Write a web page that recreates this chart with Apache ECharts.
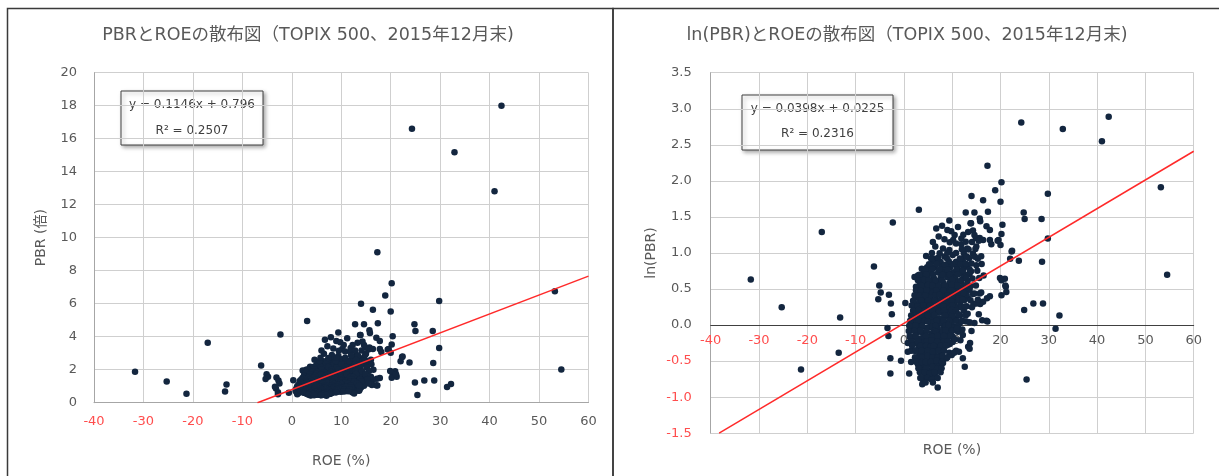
<!DOCTYPE html>
<html><head><meta charset="utf-8">
<script src="https://cdn.jsdelivr.net/npm/echarts@6/dist/echarts.min.js"></script>
<style>html,body{margin:0;padding:0;background:#fff}#c{width:1219px;height:476px}</style>
</head><body><div id="c"></div>
<script>
// [ROE (%), PBR (倍)] per company
const companies = [
[-31.7,1.88],[-25.3,1.28],[-21.3,0.54],[-17.0,3.63],[-13.5,0.68],[-13.2,1.11],
[-6.2,2.25],[-5.1,1.73],[-4.8,1.57],[-5.3,1.43],[-3.1,1.52],[-2.7,1.35],[-2.5,1.16],[-3.4,0.96],[-3.2,0.86],[-2.8,0.63],[-2.8,0.51],[-2.3,4.14],[-0.6,0.61],[1.1,0.51],[0.3,1.36],[3.1,4.95],
[25.4,0.47],[42.4,17.99],[32.9,15.18],[41.0,12.81],[24.3,16.61],[53.2,6.75],[54.5,2.01],
[29.8,6.17],[28.5,4.35],[29.8,3.32],[28.6,2.41],[28.8,1.35],[32.2,1.14],[31.4,0.95],
[17.3,9.12],[20.2,7.24],[18.9,6.49],[14.0,5.99],[16.4,5.64],[20.0,5.53],[24.8,4.76],[25.0,4.35],[17.4,4.81],[14.6,4.76],[12.8,4.76],[15.7,4.39],[15.8,4.22],[13.8,4.10],[17.1,3.94],[20.4,4.02],[17.8,3.74],[14.3,3.71],[14.6,3.49],[15.7,3.35],[16.4,3.25],[19.6,3.25],[20.2,3.53],[18.1,3.07],[20.0,3.03],[22.3,2.77],[22.0,2.51],[23.8,2.44],
[16.5,1.99],[20.2,1.86],[20.9,1.90],[21.1,1.70],[21.2,1.58],[20.2,1.51],[26.8,1.35],[24.9,1.23],[17.8,1.49],[17.2,1.45],[16.4,1.38],[15.8,1.34],[15.7,1.55],[14.3,1.54],[14.4,1.34],[16.2,1.07],[17.1,1.06],[14.0,0.92],
[9.4,4.26],[7.9,3.97],[6.7,3.82],[9.0,3.74],[9.8,3.67],[11.2,3.90],[13.9,4.10],[7.2,3.42],[8.4,3.29],[10.2,3.25],[11.9,3.32],[13.3,3.63],[14.9,3.35],[15.5,3.22],[17.8,3.25],[19.4,3.22],[13.1,2.89],[15.0,2.97],[6.5,2.97],[8.1,2.89],[9.4,2.83],[10.8,3.10],[11.9,3.07],[22.4,2.80],
[4.6,2.61],[6.3,2.51],[8.4,2.59],[10.1,2.64],[12.6,2.59],[14.3,2.69],[15.3,2.51],[5.3,2.29],[7.0,2.36],[9.1,2.29],[11.2,2.36],[13.2,2.29],[15.0,2.29],[3.7,2.18],[2.9,1.99],[4.9,2.05],[7.7,2.10],[9.8,2.05],[11.9,2.08],[13.6,2.03],[19.9,1.92],[21.0,1.73],
[2.2,1.32],[2.5,1.70],[2.2,1.95],[3.2,1.55],[4.2,1.79],[5.6,1.63],[4.6,1.45],[6.7,1.42],[8.4,1.55],[10.1,1.70],[11.9,1.82],[12.9,1.70],[14.6,1.55],[13.6,1.63],[13.3,1.45],[11.7,1.48],[10.8,1.28],[9.8,1.42],[7.7,1.26],[6.0,1.23],[3.9,1.20],[2.5,1.13],[1.8,1.02],[3.7,1.02],[4.9,1.07],[6.7,1.09],[8.4,1.13],[9.8,1.07],[11.5,1.02],[12.9,1.05],[14.6,1.03],[17.3,1.05],[15.0,1.35],
[1.5,0.93],[2.2,0.85],[3.2,0.78],[2.2,0.70],[3.5,0.68],[2.5,0.61],[3.5,0.56],[4.6,0.52],[3.9,0.47],[4.9,0.48],[6.0,0.48],[7.0,0.42],[5.6,0.59],[7.0,0.64],[8.1,0.70],[9.1,0.76],[10.1,0.85],[11.2,0.91],[12.2,0.87],[13.3,0.74],[12.2,0.63],[8.1,0.59],[6.7,0.55],[4.6,0.64],[6.0,0.70],[4.9,0.78],[7.0,0.81],[8.4,0.87],[6.3,0.93],[4.2,0.89],[3.2,0.98],[9.1,0.93],[10.5,0.98],[7.7,0.74],[9.4,0.68],[8.8,0.63],[10.8,0.70],[2.9,0.64],[1.5,0.70],[0.8,0.78],[1.3,0.84],[3.8,0.44],[5.8,0.47],[2.9,0.58],[1.5,0.60],[0.8,0.69],[10.1,0.79],[9.9,0.66],[13.7,0.78],[13.6,0.72],[12.6,0.56],
[6.0,2.41],[7.6,2.40],[9.3,2.42],[10.8,2.41],[12.2,2.43],
[4.8,2.23],[6.3,2.22],[7.9,2.24],[9.6,2.23],[11.0,2.21],[12.5,2.23],
[4.1,2.07],[5.5,2.08],[7.1,2.07],[8.6,2.09],[10.4,2.08],[11.6,2.06],
[3.6,1.93],[4.9,1.94],[6.2,1.92],[7.6,1.93],[9.0,1.94],[10.6,1.93],[12.3,1.92],
[3.3,1.80],[5.7,1.81],[6.9,1.80],[8.2,1.79],[9.5,1.80],[11.0,1.81],
[3.0,1.68],[4.3,1.69],[6.4,1.68],[7.7,1.67],[8.9,1.68],[10.4,1.69],[11.6,1.68],
[3.8,1.57],[5.0,1.56],[6.0,1.57],[7.2,1.58],[9.3,1.57],[10.8,1.56],
[2.7,1.46],[3.9,1.47],[5.4,1.46],[7.9,1.46],[8.6,1.47],[10.3,1.46],[11.3,1.45],
[3.1,1.36],[4.4,1.37],[5.8,1.36],[7.0,1.35],[8.0,1.36],[9.1,1.37],[10.5,1.36],
[2.3,1.27],[3.5,1.28],[4.9,1.27],[6.5,1.26],[8.6,1.27],[9.5,1.28],[11.0,1.27],
[2.8,1.19],[5.3,1.18],[6.9,1.19],[7.9,1.19],[9.0,1.18],[10.2,1.19],
[2.1,1.10],[3.3,1.11],[4.4,1.10],[5.8,1.11],[7.3,1.10],[9.4,1.11],[10.6,1.10],
[2.6,1.03],[5.5,1.03],[6.2,1.04],[7.6,1.03],[8.9,1.03],[9.9,1.04],
[1.9,0.96],[3.0,0.96],[4.6,0.96],[5.4,0.97],[7.0,0.96],[8.2,0.96],[9.7,0.96],[10.4,0.97],
[2.7,0.90],[3.8,0.90],[5.7,0.89],[7.4,0.90],[9.2,0.90],
[2.0,0.84],[3.4,0.83],[4.2,0.84],[5.3,0.84],[6.4,0.83],[7.8,0.84],[8.8,0.84],
[2.6,0.78],[3.9,0.78],[6.0,0.78],[7.2,0.78],[8.6,0.78],[9.5,0.77],
[3.0,0.73],[4.1,0.72],[5.2,0.73],[6.8,0.73],[8.0,0.72],
[3.2,0.67],[4.5,0.67],[5.6,0.67],[6.4,0.66],[7.6,0.67],
[3.4,0.62],[4.0,0.63],[5.0,0.62],[6.1,0.63],[7.3,0.62],[8.3,0.63],
[4.2,0.58],[5.3,0.58],[6.4,0.57],[7.4,0.58],
[3.8,0.53],[5.0,0.53],[5.8,0.54],[6.9,0.53],
[4.4,0.50],[5.5,0.49],[6.4,0.50],
[5.2,2.32],[6.8,2.33],[8.5,2.31],[10.1,2.32],[11.7,2.33],[13.0,2.31],
[4.4,2.16],[5.9,2.17],[7.4,2.16],[9.0,2.15],[10.9,2.16],[12.2,2.17],[13.6,2.16],
[3.2,2.01],[4.6,2.02],[6.0,2.01],[8.0,2.00],[9.5,2.01],[11.2,2.02],[12.9,2.01],
[2.9,1.86],[4.2,1.87],[5.1,1.86],[6.6,1.85],[7.9,1.86],[10.0,1.87],[11.8,1.86],[13.2,1.85],
[3.6,1.73],[5.0,1.74],[5.9,1.73],[7.2,1.72],[8.5,1.73],[9.9,1.74],[12.4,1.73],[13.8,1.72],
[2.5,1.62],[3.5,1.61],[4.7,1.62],[6.7,1.62],[8.2,1.61],[9.8,1.62],[11.3,1.63],[12.6,1.62],
[2.2,1.51],[3.3,1.50],[4.4,1.51],[6.5,1.51],[7.4,1.52],[9.0,1.51],[10.0,1.50],[12.2,1.51],[13.0,1.52],
[1.9,1.40],[3.6,1.41],[5.0,1.40],[6.3,1.40],[7.6,1.41],[8.6,1.40],[9.8,1.39],[11.4,1.40],[12.5,1.41],
[1.6,1.31],[2.8,1.30],[4.0,1.31],[5.4,1.31],[7.5,1.32],[8.1,1.30],[10.0,1.31],[11.7,1.31],[13.0,1.30],
[1.9,1.22],[3.0,1.23],[4.2,1.22],[5.9,1.22],[7.3,1.21],[8.3,1.22],[9.9,1.23],[10.8,1.22],[12.4,1.22],
[1.5,1.14],[2.6,1.13],[3.9,1.14],[4.9,1.14],[6.3,1.15],[8.5,1.14],[10.0,1.13],[11.6,1.14],[12.8,1.14],
[1.3,1.06],[3.0,1.07],[4.2,1.06],[4.9,1.05],[6.8,1.06],[8.2,1.06],[9.4,1.07],[10.9,1.06],[12.1,1.06],
[1.1,0.99],[2.4,0.99],[3.8,0.99],[5.9,0.98],[6.6,0.99],[8.6,0.99],[9.2,1.00],[11.2,0.99],
[1.0,0.92],[2.2,0.92],[3.4,0.93],[4.7,0.92],[6.2,0.92],[6.6,0.91],[8.0,0.92],[8.6,0.93],[10.0,0.92],
[1.2,0.86],[2.4,0.86],[4.6,0.86],[6.0,0.85],[7.0,0.86],[8.3,0.86],[9.6,0.86],
[1.6,0.80],[2.9,0.80],[4.8,0.80],[5.7,0.81],[6.9,0.80],[8.3,0.80],[9.1,0.80],
[1.7,0.75],[3.4,0.75],[4.6,0.75],[5.5,0.74],[6.2,0.75],[7.6,0.75],[8.7,0.75],
[2.4,0.70],[3.6,0.70],[4.9,0.70],[6.0,0.69],[7.2,0.70],[8.3,0.70],
[2.3,0.64],[3.8,0.64],[4.9,0.65],[5.9,0.64],[7.0,0.64],[8.0,0.65],[9.0,0.64],
[2.6,0.60],[3.7,0.60],[4.5,0.60],[5.6,0.60],[6.7,0.61],[7.9,0.60],
[3.0,0.55],[4.6,0.55],[5.9,0.56],[6.9,0.55],[7.8,0.55],
[3.3,0.52],[4.3,0.52],[5.3,0.51],[6.3,0.52],[7.6,0.52],
[3.4,0.48],[4.9,0.48],[5.8,0.47],[7.0,0.48],
[4.5,0.45],[6.0,0.45],
[5.6,2.53],[7.1,2.54],[8.9,2.53],[11.6,2.52],[13.5,2.53],
[5.8,2.72],[7.4,2.71],[9.0,2.73],[10.8,2.72],[12.4,2.71],
[6.0,3.16],[9.5,3.15],[12.8,3.17],[14.1,3.16],
[10.5,3.49],[12.3,3.50],
[12.0,2.86],[13.4,2.85],[14.8,2.87],
[13.0,2.59],[14.7,2.58],[16.0,2.60],
[12.8,2.34],[14.0,2.35],[16.1,2.33],
[12.2,2.12],[13.9,2.11],[15.2,2.12],
[12.9,1.92],[14.2,1.91],[15.6,1.92],
[11.1,1.73],[13.0,1.74],[14.9,1.73],
[11.8,1.57],[12.4,1.56],[16.0,1.57],
[12.1,1.42],[13.8,1.41],[15.3,1.42],
[11.9,1.28],[12.6,1.29],[14.1,1.28],
[11.3,1.16],[13.2,1.17],[15.5,1.16],
[11.9,1.05],[13.6,1.04],
[11.0,0.95],[12.1,0.94],
[10.6,0.82],[11.7,0.81],
[10.4,0.68],[11.4,0.69]
];
const chartTitles = ['PBRとROEの散布図（TOPIX 500、2015年12月末)', 'ln(PBR)とROEの散布図（TOPIX 500、2015年12月末)'];
const xAxisName = 'ROE (%)';
const yAxisNames = ['PBR (倍)', 'ln(PBR)'];
const roeRange = [-40, 60, 10];
const pbrRange = [0, 20, 2];
const lnRange = [-1.5, 3.5, 0.5];
const trendSlope = [0.1146, 0.0398];
const trendIntercept = [0.796, 0.0225];
const trendR2 = [0.2507, 0.2316];

const FONT = '"DejaVu Sans","Noto Sans CJK JP",sans-serif';
const GRAY = '#595959';
const RED = '#ff4d4d';
const DOT = '#13263f';

const lnData = companies.map(p => [p[0], Math.log(p[1])]);
function trendPoints(i, yMin) {
  const m = trendSlope[i], b = trendIntercept[i];
  const x0 = Math.max(roeRange[0], (yMin - b) / m);
  return [[x0, m * x0 + b], [roeRange[1], m * roeRange[1] + b]];
}
const negColor = v => (Number(v) < 0 ? RED : GRAY);

const grid1 = {left: 710.7, top: 72.7, width: 483, height: 360.5};
// place the right chart's x axis on its y = 0 line
const zeroOffset = -grid1.height * (0 - lnRange[0]) / (lnRange[1] - lnRange[0]);

const chart = echarts.init(document.getElementById('c'), null, {renderer: 'canvas'});
const xCommon = {
  type: 'value', min: roeRange[0], max: roeRange[1], interval: roeRange[2],
  axisTick: {show: false},
  axisLabel: {fontFamily: FONT, fontSize: 13, color: negColor, margin: 12},
  splitLine: {lineStyle: {color: '#cfcfcf', width: 1}}
};
const option = {
  animation: false,
  grid: [
    {left: 94, top: 72.7, width: 494.5, height: 330},
    grid1
  ],
  xAxis: [
    Object.assign({}, xCommon, {gridIndex: 0,
      axisLine: {lineStyle: {color: '#a6a6a6'}},
      name: xAxisName, nameLocation: 'middle', nameGap: 52,
      nameTextStyle: {fontFamily: FONT, fontSize: 14, color: GRAY}}),
    Object.assign({}, xCommon, {gridIndex: 1, offset: zeroOffset,
      axisLine: {onZero: false, lineStyle: {color: '#404040'}},
      axisLabel: {fontFamily: FONT, fontSize: 13, color: negColor, margin: 9}})
  ],
  yAxis: [
    {type: 'value', gridIndex: 0, min: pbrRange[0], max: pbrRange[1], interval: pbrRange[2],
      axisLine: {show: true, onZero: false, lineStyle: {color: '#a6a6a6'}}, axisTick: {show: false},
      axisLabel: {fontFamily: FONT, fontSize: 13, color: GRAY, margin: 17},
      splitLine: {lineStyle: {color: '#cfcfcf'}},
      name: yAxisNames[0], nameLocation: 'middle', nameGap: 46, nameRotate: 90,
      nameTextStyle: {fontFamily: FONT, fontSize: 14, color: GRAY}},
    {type: 'value', gridIndex: 1, min: lnRange[0], max: lnRange[1], interval: lnRange[2],
      axisLine: {show: true, onZero: false, lineStyle: {color: '#a6a6a6'}}, axisTick: {show: false},
      axisLabel: {fontFamily: FONT, fontSize: 13, color: negColor, margin: 19,
        formatter: v => Number(v).toFixed(1)},
      splitLine: {lineStyle: {color: '#cfcfcf'}},
      name: yAxisNames[1], nameLocation: 'middle', nameGap: 52, nameRotate: 90,
      nameTextStyle: {fontFamily: FONT, fontSize: 14, color: GRAY}}
  ],
  series: [
    {type: 'scatter', xAxisIndex: 0, yAxisIndex: 0, data: companies, symbolSize: 6.5,
      itemStyle: {color: DOT, opacity: 1}, silent: true, z: 2},
    {type: 'line', xAxisIndex: 0, yAxisIndex: 0, data: trendPoints(0, pbrRange[0]), symbol: 'none',
      lineStyle: {color: '#ff2a2a', width: 1.5}, silent: true, z: 3},
    {type: 'scatter', xAxisIndex: 1, yAxisIndex: 1, data: lnData, symbolSize: 6.5,
      itemStyle: {color: DOT, opacity: 1}, silent: true, z: 2},
    {type: 'line', xAxisIndex: 1, yAxisIndex: 1, data: trendPoints(1, lnRange[0]), symbol: 'none',
      lineStyle: {color: '#ff2a2a', width: 1.5}, silent: true, z: 3}
  ],
  graphic: [
    {type: 'rect', shape: {x: 7.5, y: 8.5, width: 605.5, height: 480}, style: {fill: 'none', stroke: '#3a3a3a', lineWidth: 1.5}, z: 10},
    {type: 'rect', shape: {x: 613, y: 8.5, width: 620, height: 480}, style: {fill: 'none', stroke: '#3a3a3a', lineWidth: 1.5}, z: 10},
    {type: 'text', x: 308, y: 35, style: {text: chartTitles[0], align: 'center', verticalAlign: 'middle', font: '17.5px ' + FONT, fill: GRAY}},
    {type: 'text', x: 907, y: 35, style: {text: chartTitles[1], align: 'center', verticalAlign: 'middle', font: '17.5px ' + FONT, fill: GRAY}},
    {type: 'text', x: 952, y: 450, style: {text: xAxisName, align: 'center', verticalAlign: 'middle', font: '14px ' + FONT, fill: GRAY}},
    {type: 'group', x: 121, y: 91, z: 20, children: [
      {type: 'rect', shape: {x: 0, y: 0, width: 142, height: 54}, style: {fill: '#fff', stroke: '#404040', lineWidth: 1, shadowBlur: 4, shadowOffsetX: 2, shadowOffsetY: 2, shadowColor: 'rgba(0,0,0,0.35)'}},
      {type: 'text', x: 71, y: 14, style: {text: 'y = ' + trendSlope[0] + 'x + ' + trendIntercept[0], align: 'center', verticalAlign: 'middle', font: '12px ' + FONT, fill: '#404040'}},
      {type: 'text', x: 71, y: 40, style: {text: 'R² = ' + trendR2[0], align: 'center', verticalAlign: 'middle', font: '12px ' + FONT, fill: '#404040'}}
    ]},
    {type: 'group', x: 742, y: 95, z: 20, children: [
      {type: 'rect', shape: {x: 0, y: 0, width: 151, height: 55}, style: {fill: '#fff', stroke: '#404040', lineWidth: 1, shadowBlur: 4, shadowOffsetX: 2, shadowOffsetY: 2, shadowColor: 'rgba(0,0,0,0.35)'}},
      {type: 'text', x: 75.5, y: 14, style: {text: 'y = ' + trendSlope[1] + 'x + ' + trendIntercept[1], align: 'center', verticalAlign: 'middle', font: '12px ' + FONT, fill: '#404040'}},
      {type: 'text', x: 75.5, y: 39, style: {text: 'R² = ' + trendR2[1], align: 'center', verticalAlign: 'middle', font: '12px ' + FONT, fill: '#404040'}}
    ]}
  ]
};
chart.setOption(option);
</script></body></html>
